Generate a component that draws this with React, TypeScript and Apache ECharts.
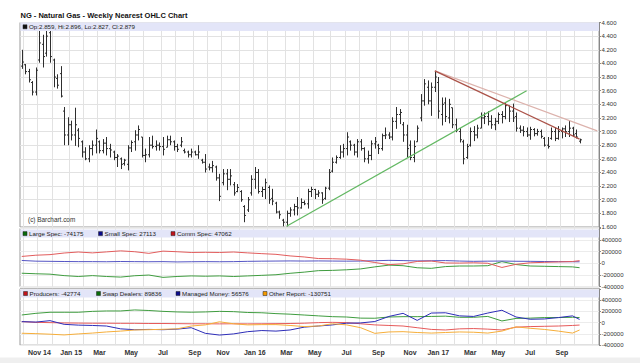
import React, { useEffect, useRef } from 'react';
import * as echarts from 'echarts';

const TITLE = 'NG - Natural Gas - Weekly Nearest OHLC Chart';
const OHLC_LEGEND = 'Op:2.859, Hi:2.896, Lo:2.827, Cl:2.879';
const LAST_PRICE = 2.879;
const FIRST_WEEK = Date.UTC(2014, 8, 26); // week ending Fri 26 Sep 2014
const CATEGORY_COUNT = 164;
const MONTH_NAMES = ['Jan', 'Feb', 'Mar', 'Apr', 'May', 'Jun', 'Jul', 'Aug', 'Sep', 'Oct', 'Nov', 'Dec'];
const LABEL_MONTHS = [10, 0, 2, 4, 6, 8];

const opens = [3.96,3.98,3.88,3.72,3.58,4.05,4.28,4.15,4.45,4.05,3.78,3.85,3.30,2.95,3.10,2.95,3.02,2.85,2.70,2.60,2.75,2.80,2.85,2.72,2.83,2.75,2.70,2.62,2.60,2.53,2.52,2.76,2.85,2.95,2.92,2.65,2.66,2.80,2.78,2.80,2.78,2.77,2.88,2.85,2.78,2.80,2.72,2.70,2.66,2.70,2.66,2.58,2.55,2.48,2.47,2.48,2.32,2.25,2.38,2.30,2.22,2.12,2.12,1.90,1.85,2.10,2.30,2.40,2.12,2.15,2.18,2.02,1.95,1.82,1.70,1.67,1.80,1.85,1.90,1.88,1.96,1.94,2.12,2.15,2.08,2.10,2.02,2.17,2.42,2.55,2.62,2.70,2.75,2.85,2.80,2.70,2.85,2.75,2.60,2.65,2.82,2.80,2.75,2.94,2.95,2.92,3.15,3.25,3.10,2.95,2.80,2.62,2.85,3.20,3.45,3.65,3.45,3.65,3.72,3.25,3.42,3.20,3.35,3.10,3.00,2.85,2.62,2.80,3.00,2.95,3.05,3.20,3.22,3.15,3.10,3.15,3.25,3.22,3.38,3.30,3.22,3.05,3.02,3.00,2.95,3.03,2.97,3.00,2.90,2.80,2.90,3.00,2.90,3.00,3.04,3.00,3.05,2.97,2.859];
const highs = [4.20,3.99,3.92,3.74,3.94,4.55,4.42,4.58,4.52,4.07,3.84,3.96,3.36,3.21,3.16,3.35,3.05,2.87,2.77,2.80,2.87,3.03,2.87,2.89,2.92,2.82,2.72,2.67,2.62,2.60,2.80,2.87,3.02,3.09,2.92,2.75,2.92,2.94,2.87,2.84,2.92,2.94,2.94,2.87,2.82,2.92,2.75,2.72,2.75,2.72,2.80,2.60,2.67,2.53,2.57,2.50,2.38,2.45,2.45,2.45,2.26,2.23,2.14,1.92,2.04,2.36,2.48,2.45,2.19,2.31,2.21,2.16,1.97,1.84,1.72,1.84,1.89,1.94,2.04,2.02,1.99,2.16,2.19,2.16,2.14,2.11,2.19,2.45,2.62,2.65,2.80,2.82,2.99,2.87,2.82,2.89,2.89,2.77,2.72,2.87,2.92,2.82,2.97,3.06,2.99,3.21,3.36,3.33,3.14,3.10,2.87,2.87,3.09,3.55,3.77,3.75,3.72,3.89,3.80,3.50,3.50,3.48,3.35,3.19,3.05,2.88,2.82,3.06,3.08,3.10,3.28,3.28,3.30,3.24,3.20,3.28,3.30,3.43,3.38,3.41,3.28,3.09,3.08,3.06,3.07,3.05,3.04,3.03,2.92,2.92,3.06,3.06,3.08,3.06,3.09,3.16,3.07,3.03,2.896];
const lows = [3.92,3.84,3.72,3.53,3.53,4.01,3.94,4.10,4.01,3.65,3.63,3.50,2.80,2.80,2.87,2.79,2.77,2.62,2.58,2.55,2.65,2.68,2.68,2.68,2.65,2.62,2.58,2.48,2.45,2.50,2.43,2.70,2.72,2.87,2.62,2.55,2.62,2.75,2.72,2.72,2.65,2.77,2.80,2.72,2.70,2.77,2.68,2.62,2.62,2.65,2.60,2.53,2.40,2.43,2.40,2.28,1.98,2.21,2.14,2.21,2.06,2.11,1.97,1.67,1.82,2.06,2.16,2.09,2.04,2.01,1.94,1.92,1.80,1.72,1.61,1.61,1.75,1.77,1.77,1.87,1.92,1.87,2.04,2.01,2.04,1.94,2.00,2.14,2.40,2.53,2.60,2.62,2.65,2.72,2.65,2.62,2.72,2.55,2.53,2.58,2.75,2.67,2.72,2.89,2.89,2.87,3.04,3.11,2.85,2.62,2.58,2.55,2.85,3.15,3.38,3.40,3.23,3.58,3.19,3.09,3.14,3.12,3.05,2.99,2.84,2.52,2.60,2.78,2.86,2.90,3.05,3.11,3.09,3.04,3.02,3.11,3.12,3.18,3.14,3.14,3.00,2.98,2.93,2.92,2.88,2.93,2.94,2.90,2.78,2.75,2.88,2.86,2.88,2.90,2.92,2.92,2.92,2.90,2.827];
const closes = [4.02,3.88,3.76,3.58,3.90,4.30,4.10,4.40,4.10,3.80,3.68,3.52,2.95,3.10,2.95,3.10,2.90,2.70,2.60,2.75,2.80,2.90,2.72,2.83,2.75,2.73,2.62,2.64,2.52,2.58,2.76,2.84,2.95,3.03,2.65,2.66,2.80,2.78,2.80,2.78,2.74,2.88,2.85,2.78,2.74,2.85,2.70,2.66,2.70,2.66,2.70,2.55,2.45,2.47,2.50,2.32,2.05,2.38,2.30,2.35,2.10,2.18,2.00,1.77,2.00,2.30,2.40,2.12,2.15,2.25,2.00,1.98,1.82,1.78,1.67,1.80,1.85,1.90,1.88,1.96,1.94,2.12,2.15,2.08,2.10,2.00,2.17,2.40,2.55,2.62,2.70,2.75,2.92,2.80,2.70,2.85,2.75,2.60,2.65,2.82,2.85,2.75,2.94,2.95,2.92,3.15,3.25,3.28,2.95,2.75,2.62,2.78,3.05,3.45,3.70,3.45,3.65,3.80,3.30,3.40,3.22,3.40,3.10,3.02,2.88,2.60,2.78,3.00,2.95,3.05,3.20,3.22,3.15,3.10,3.15,3.25,3.22,3.38,3.30,3.20,3.05,3.02,3.00,2.95,3.03,2.97,3.00,2.93,2.80,2.78,3.00,2.90,3.00,3.04,3.00,3.05,2.95,2.92,2.879];

// trend lines: [week index, price]
const greenTrend = [[75, 1.61], [143, 3.6]];
const redTrend = [[117, 3.89], [158, 2.89]];
const pinkTrend = [[117, 3.89], [163, 3.01]];

// COT data, sampled weeks, thousands of contracts
const cotWeeks = [0,4,8,12,16,20,24,28,32,36,40,44,48,52,56,60,64,68,72,76,80,84,88,92,96,100,104,108,112,116,120,124,128,132,136,140,144,148,152,156,158];
const largeSpec = [-169,-178,-185,-210,-225,-210,-225,-235,-212,-200,-240,-225,-215,-220,-215,-225,-215,-205,-195,-170,-150,-125,-120,-110,-95,-60,-30,-40,-75,-85,-55,-45,-45,-40,30,-20,-45,-50,-55,-60,-74.175];
const smallSpec = [50,38,35,32,30,30,28,32,30,28,30,25,28,30,28,30,35,38,40,42,40,42,40,38,40,45,52,48,42,45,48,40,35,38,40,36,35,32,30,28,27.113];
const commSpec = [119,140,150,178,195,180,197,215,200,172,210,200,187,190,187,195,180,167,155,128,110,83,80,72,55,15,-22,-8,33,40,7,5,10,2,-70,-16,10,18,25,32,47.062];
const producers = [18,5,0,-5,-8,-10,-10,-12,-12,-15,-15,-18,-20,-20,-22,-20,-22,-20,-18,-15,-10,0,5,0,-20,-40,-50,-60,-90,-120,-130,-110,-105,-115,-130,-80,-70,-65,-60,-50,-42.774];
const swapDealers = [136,165,184,184,184,200,207,207,225,215,200,190,185,190,200,195,180,175,160,150,135,120,106,100,80,78,100,106,106,110,115,95,95,110,30,75,80,90,90,95,89.836];
const managedMoney = [18,10,35,-30,-44,-50,-60,-110,-125,-120,-125,-115,-90,-190,-220,-200,-160,-140,-150,-130,-80,-60,-40,-10,-5,20,110,165,40,170,175,120,110,170,220,100,60,65,90,120,56.576];
const otherReport = [-188,-195,-205,-218,-200,-185,-165,-150,-130,-125,-118,-110,-60,-40,15,-20,-40,-35,-35,-50,-70,-60,-20,-40,-90,-190,-165,-160,-175,-185,-175,-165,-170,-185,-150,-75,-100,-120,-150,-185,-130.751];

const FONT = '"Liberation Sans", Arial, sans-serif';
const LAST_LABEL_INDEX = opens.length - 1;

const categories: string[] = [];
const monthStart: boolean[] = [];
const labelText: string[] = [];
{
  let first = true;
  for (let i = 0; i < CATEGORY_COUNT; i++) {
    const f = FIRST_WEEK + i * 7 * 864e5;
    const d = new Date(f);
    categories.push(d.toISOString().slice(0, 10));
    const a = new Date(f + 3 * 864e5);
    const b = new Date(f - 4 * 864e5);
    const ms = a.getUTCMonth() !== b.getUTCMonth();
    monthStart.push(ms);
    let t = '';
    if (ms && i <= LAST_LABEL_INDEX && LABEL_MONTHS.indexOf(a.getUTCMonth()) >= 0) {
      const m = a.getUTCMonth();
      const yy = String(a.getUTCFullYear()).slice(2);
      t = m === 0 || first ? `${MONTH_NAMES[m]} ${yy}` : MONTH_NAMES[m];
      first = false;
    }
    labelText.push(t);
  }
}

const ohlcData = opens.map((o, i) => [i, o, highs[i], lows[i], closes[i]]);
const cotSeries = (vals: number[]) => cotWeeks.map((w, k) => [w, Math.round(vals[k] * 1000)]);

const GRID_L = 20;
const GRID_R = 41;
const G0 = { top: 22.5, height: 204.5 };
const G1 = { top: 228.4, height: 58.3 };
const G2 = { top: 288.8, height: 56.4 };

function xAxis(gridIndex: number, labels: boolean) {
  return {
    type: 'category',
    gridIndex,
    data: categories,
    boundaryGap: true,
    axisLine: { show: false },
    axisTick: { show: false },
    axisLabel: labels
      ? {
          show: true,
          interval: (i: number) => labelText[i] !== '',
          formatter: (_v: string, i: number) => labelText[i],
          fontSize: 7,
          fontWeight: 'bold',
          color: '#333',
          margin: 3.5,
          fontFamily: FONT,
        }
      : { show: false },
    splitLine: {
      show: true,
      interval: (i: number) => monthStart[i],
      lineStyle: { color: '#e2e2e2', width: 1 },
    },
  };
}

function cotAxis(gridIndex: number) {
  return {
    type: 'value',
    gridIndex,
    position: 'right',
    min: -400000,
    max: 600000,
    interval: 200000,
    axisLine: { show: true, lineStyle: { color: '#888' } },
    axisTick: { show: true, length: 2, lineStyle: { color: '#888' } },
    axisLabel: {
      fontSize: 6,
      color: '#333',
      margin: 2.5,
      fontFamily: FONT,
      formatter: (v: number) => (v >= 600000 ? '' : String(v)),
    },
    splitLine: { show: true, lineStyle: { color: '#ececec' } },
  };
}

function legendItems(y: number, items: { x: number; color: string; text: string }[]) {
  const out: any[] = [];
  for (const it of items) {
    out.push({
      type: 'rect',
      z: 101,
      shape: { x: it.x, y: y - 2, width: 4, height: 4 },
      style: { fill: it.color, stroke: '#222', lineWidth: 0.5 },
    });
    out.push({
      type: 'text',
      z: 101,
      x: it.x + 6,
      y,
      style: { text: it.text, font: `6.2px ${FONT}`, fill: '#222', verticalAlign: 'middle' },
    });
  }
  return out;
}

function lineSeries(name: string, xi: number, data: any[], color: string, width = 1, z = 3) {
  return {
    name,
    type: 'line',
    xAxisIndex: xi,
    yAxisIndex: xi,
    data,
    symbol: 'none',
    silent: true,
    z,
    lineStyle: { color, width },
  };
}

function renderOhlc(_params: any, api: any) {
  const i = api.value(0);
  const o = api.coord([i, api.value(1)]);
  const h = api.coord([i, api.value(2)]);
  const l = api.coord([i, api.value(3)]);
  const c = api.coord([i, api.value(4)]);
  const x = Math.round(h[0]) + 0.5;
  const st = { stroke: '#2e2e2e', lineWidth: 1 };
  return {
    type: 'group',
    children: [
      { type: 'line', shape: { x1: x, y1: h[1], x2: x, y2: l[1] }, style: st },
      { type: 'line', shape: { x1: x - 1.5, y1: o[1], x2: x, y2: o[1] }, style: st },
      { type: 'line', shape: { x1: x, y1: c[1], x2: x + 1.5, y2: c[1] }, style: st },
    ],
  };
}

export default function App() {
  const ref = useRef<HTMLDivElement>(null);
  useEffect(() => {
    const chart = echarts.init(ref.current!, null, { renderer: 'svg' });
    const option: any = {
      animation: false,
      backgroundColor: '#ffffff',
      textStyle: { fontFamily: FONT },
      grid: [
        { left: GRID_L, right: GRID_R, top: G0.top, height: G0.height, show: true, borderColor: '#9a9a9a', borderWidth: 1 },
        { left: GRID_L, right: GRID_R, top: G1.top, height: G1.height, show: true, borderColor: '#9a9a9a', borderWidth: 1 },
        { left: GRID_L, right: GRID_R, top: G2.top, height: G2.height, show: true, borderColor: '#9a9a9a', borderWidth: 1 },
      ],
      xAxis: [xAxis(0, false), xAxis(1, false), xAxis(2, true)],
      yAxis: [
        {
          type: 'value',
          gridIndex: 0,
          position: 'right',
          min: 1.6,
          max: 4.6,
          interval: 0.2,
          axisLine: { show: true, lineStyle: { color: '#888' } },
          axisTick: { show: true, length: 2, lineStyle: { color: '#888' } },
          axisLabel: { fontSize: 6, color: '#333', margin: 2.5, fontFamily: FONT, formatter: (v: number) => v.toFixed(3) },
          splitLine: { show: true, lineStyle: { color: '#e2e2e2' } },
        },
        cotAxis(1),
        cotAxis(2),
      ],
      series: [
        {
          type: 'custom',
          xAxisIndex: 0,
          yAxisIndex: 0,
          clip: true,
          silent: true,
          z: 2,
          data: ohlcData,
          encode: { x: 0, y: [1, 2, 3, 4] },
          renderItem: renderOhlc,
        },
        lineSeries('pink', 0, pinkTrend, '#dcb2ac', 1.2, 4),
        lineSeries('green', 0, greenTrend, '#62b862', 1.2, 4),
        {
          ...lineSeries('red', 0, redTrend, '#ab5248', 1.3, 5),
          markLine: {
            silent: true,
            symbol: ['none', 'none'],
            lineStyle: { opacity: 0, width: 0 },
            label: {
              show: true,
              position: 'end',
              distance: 2,
              formatter: LAST_PRICE.toFixed(3),
              backgroundColor: '#111',
              color: '#fff',
              fontSize: 6,
              padding: [1, 2, 0, 2],
              fontFamily: FONT,
            },
            data: [{ yAxis: LAST_PRICE }],
          },
        },
        lineSeries('Large Spec', 1, cotSeries(largeSpec), '#3f9c3f'),
        lineSeries('Small Spec', 1, cotSeries(smallSpec), '#5555c4'),
        lineSeries('Comm Spec', 1, cotSeries(commSpec), '#e25c5c'),
        lineSeries('Producers', 2, cotSeries(producers), '#e65a5a'),
        lineSeries('Swap Dealers', 2, cotSeries(swapDealers), '#3f9c3f'),
        lineSeries('Managed Money', 2, cotSeries(managedMoney), '#2d2db8'),
        lineSeries('Other Report', 2, cotSeries(otherReport), '#f6ae3a'),
      ],
      graphic: {
        elements: [
          {
            type: 'text',
            z: 101,
            x: 20.5,
            y: 15.5,
            style: { text: TITLE, font: `bold 7.5px ${FONT}`, fill: '#111', verticalAlign: 'middle' },
          },
          { type: 'rect', z: 100, shape: { x: 20.5, y: 22.5, width: 578.5, height: 8.5 }, style: { fill: '#e3e5f8' } },
          { type: 'rect', z: 100, shape: { x: 20.5, y: 229.5, width: 578.5, height: 8 }, style: { fill: '#e3e5f8' } },
          { type: 'rect', z: 100, shape: { x: 20.5, y: 289.5, width: 578.5, height: 8 }, style: { fill: '#e3e5f8' } },
          ...legendItems(26.8, [{ x: 23, color: '#111', text: OHLC_LEGEND }]),
          ...legendItems(233.6, [
            { x: 23, color: '#0a6b0a', text: `Large Spec: ${Math.round(largeSpec[largeSpec.length - 1] * 1000)}` },
            { x: 98.5, color: '#0a0a8c', text: `Small Spec: ${Math.round(smallSpec[smallSpec.length - 1] * 1000)}` },
            { x: 171, color: '#c0141c', text: `Comm Spec: ${Math.round(commSpec[commSpec.length - 1] * 1000)}` },
          ]),
          ...legendItems(293.5, [
            { x: 23.5, color: '#c0141c', text: `Producers: ${Math.round(producers[producers.length - 1] * 1000)}` },
            { x: 96.5, color: '#0a6b0a', text: `Swap Dealers: ${Math.round(swapDealers[swapDealers.length - 1] * 1000)}` },
            { x: 176, color: '#0a0a8c', text: `Managed Money: ${Math.round(managedMoney[managedMoney.length - 1] * 1000)}` },
            { x: 263, color: '#f59a00', text: `Other Report: ${Math.round(otherReport[otherReport.length - 1] * 1000)}` },
          ]),
          {
            type: 'text',
            z: 101,
            x: 28,
            y: 219.8,
            style: { text: '(c) Barchart.com', font: `6.4px ${FONT}`, fill: '#333', verticalAlign: 'middle' },
          },
          { type: 'rect', z: 100, shape: { x: 0, y: 357.5, width: 640, height: 6 }, style: { fill: '#efefef' } },
        ],
      },
    };
    chart.setOption(option);
    return () => chart.dispose();
  }, []);
  return <div ref={ref} style={{ position: 'absolute', left: 0, top: 0, width: 640, height: 363 }} />;
}
